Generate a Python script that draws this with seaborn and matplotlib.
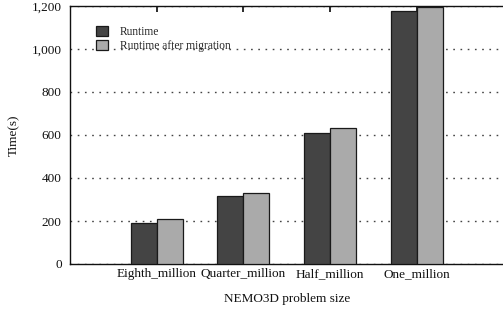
"""Runtime before/after migration for NEMO3D problem sizes"""

import matplotlib

matplotlib.use("Agg")
import matplotlib.pyplot as plt
import pandas as pd
import seaborn as sns
from matplotlib.ticker import FuncFormatter

# Data
problem_sizes = ["Eighth_million", "Quarter_million", "Half_million", "One_million"]
runtime = [190, 315, 608, 1178]
runtime_after_migration = [208, 330, 633, 1195]
series_names = ["Runtime", "Runtime after migration"]
y_ticks = [0, 200, 400, 600, 800, 1000, 1200]

df = pd.DataFrame(
    {
        "size": problem_sizes * 2,
        "time": runtime + runtime_after_migration,
        "series": [series_names[0]] * 4 + [series_names[1]] * 4,
    }
)

sns.set_theme(style="white")
plt.rcParams["font.family"] = ["Liberation Serif", "DejaVu Serif"]

fig = plt.figure(figsize=(5.03, 3.12), dpi=100)
ax = fig.add_axes([70 / 503, 48 / 312, 433.5 / 503, 258 / 312])

sns.barplot(
    data=df,
    x="size",
    y="time",
    hue="series",
    order=problem_sizes,
    hue_order=series_names,
    palette=["#444444", "#aaaaaa"],
    width=0.6,
    gap=0,
    edgecolor="#1a1a1a",
    linewidth=0.9,
    saturation=1,
    ax=ax,
    zorder=3,
)

ax.set_xlim(-1, 4)
ax.set_ylim(0, 1200)
ax.set_yticks(y_ticks)
ax.yaxis.set_major_formatter(FuncFormatter(lambda v, _: f"{int(v):,}"))

# Dotted horizontal grid
ax.yaxis.grid(True, linestyle=(0, (1.2, 4)), color="#444444", linewidth=1.0, zorder=0)
ax.xaxis.grid(False)

for side in ["left", "bottom", "top"]:
    ax.spines[side].set_color("#111111")
    ax.spines[side].set_linewidth(1.0)
ax.spines["right"].set_visible(False)

ax.tick_params(axis="x", which="both", direction="in", length=4, top=True, bottom=False,
               labelsize=9.5, colors="#111111", pad=3)
ax.tick_params(axis="y", length=0, labelsize=9.5, colors="#111111", pad=6)
for lbl in ax.get_xticklabels() + ax.get_yticklabels():
    lbl.set_color("#111111")

ax.set_xlabel("NEMO3D problem size", fontsize=9.5, color="#111111", labelpad=9)
ax.set_ylabel("Time(s)", fontsize=9.5, color="#111111", labelpad=8)

ax.legend(
    loc="upper left",
    bbox_to_anchor=(0.06, 0.922),
    frameon=False,
    fontsize=8.3,
    handlelength=1.0,
    handleheight=1.0,
    handletextpad=1.1,
    borderpad=0,
    borderaxespad=0,
    labelspacing=0.15,
)

plt.savefig("out.png", dpi=100)
